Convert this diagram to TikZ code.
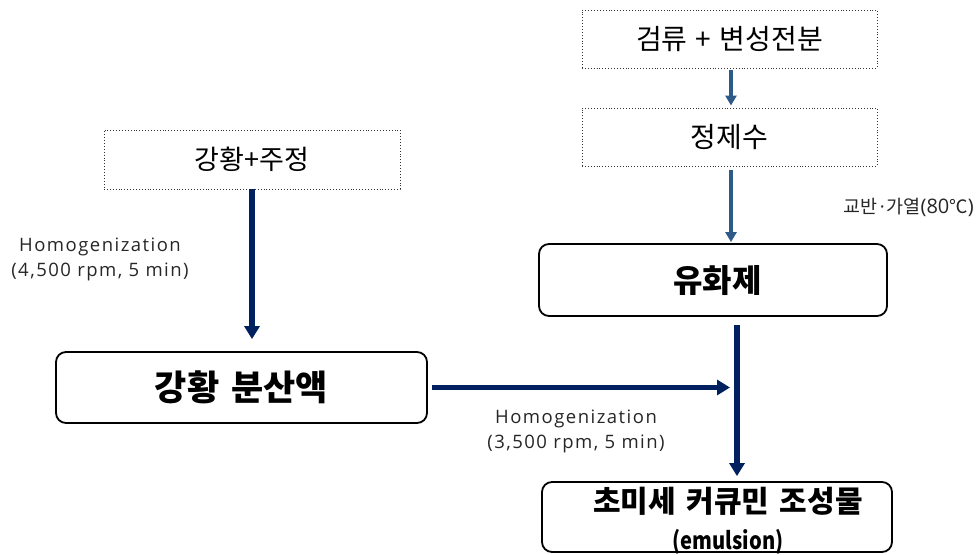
\documentclass[tikz,border=0pt]{standalone}
\usepackage{fontspec}
\setmainfont{Noto Sans CJK KR}
\newfontfamily\latinfont[LetterSpace=8]{Open Sans}
\newfontfamily\digitfont{Open Sans}
\newfontfamily\narrowfont[FakeStretch=0.84]{Noto Sans CJK KR}
\usetikzlibrary{arrows.meta}
\definecolor{navyline}{HTML}{002060}
\definecolor{steelline}{HTML}{2E5A87}
\tikzset{
  dotbox/.style={draw=black!80, dotted, line width=0.9pt, inner sep=0pt,
    font=\fontsize{28}{32}\selectfont},
  roundbox/.style={draw=black, line width=1.8pt, rounded corners=10pt, inner sep=0pt,
    align=center},
  boxtext/.style={inner sep=0pt, align=center},
  thinflow/.style={draw=steelline, line width=4pt,
    -{Triangle[width=11pt,length=10pt]}},
  thickflow/.style={draw=navyline, line width=5.5pt,
    -{Triangle[width=15pt,length=13pt]}},
  note/.style={inner sep=0pt, align=center, font=\latinfont\fontsize{18.5}{25}\selectfont, text=black!85},
}
\begin{document}
\begin{tikzpicture}[x=1pt,y=-1pt]
  \useasboundingbox (0,0) rectangle (976,554);

  % raw materials and process boxes
  \node[dotbox, minimum width=295pt, minimum height=58pt] (gum) at (729.5,39) {검류\hspace{0.3em}+\hspace{0.3em}변성전분};
  \node[dotbox, minimum width=295pt, minimum height=58pt] (water) at (729.5,137) {정제수};
  \node[dotbox, minimum width=296pt, minimum height=59pt, font=\fontsize{27}{31}\selectfont] (turm) at (252,159.5) {강황+주정};

  \node[roundbox, minimum width=371pt, minimum height=71pt,
        font=\bfseries\fontsize{35}{39}\selectfont] (disp) at (241.5,387.5) {강황\hspace{0.35em}분산액};
  \node[roundbox, minimum width=348pt, minimum height=72pt] (emul) at (713,280) {};
  \node[boxtext, font=\bfseries\fontsize{32}{36}\selectfont] (emultext) at (717.5,281) {유화제};
  \node[roundbox, minimum width=350pt, minimum height=70pt] (final) at (717,517) {};
  \node[boxtext, font=\bfseries\fontsize{30}{37}\selectfont] (finaltext) at (728,521)
        {초미세\hspace{0.35em}커큐민\hspace{0.35em}조성물\\{\narrowfont\bfseries\fontsize{24}{37}\selectfont(emulsion)}};

  % trunk line of the emulsion step
  \coordinate (trunk) at (737,0);
  \coordinate (feed) at (731,0);

  % connectors
  \draw[thinflow, shorten <=2pt, shorten >=2pt] (gum.south -| feed) -- (water.north -| feed);
  \draw[thinflow, shorten <=4pt, shorten >=1pt] (water.south -| feed) -- (emul.north -| feed);
  \draw[thickflow, shorten >=12pt] (turm.south) -- (turm.south |- disp.north);
  \draw[thickflow, shorten <=8pt, shorten >=5pt] (emul.south -| trunk) -- (final.north -| trunk);
  \draw[thickflow, line width=4.5pt, shorten <=4pt, shorten >=7pt] (disp.east) -- (disp.east -| trunk);

  % process conditions
  \node[note] (hom1) at (100,259) {Homogenization\\(4,500 rpm, 5 min)};
  \node[note] (hom2) at (576,431) {Homogenization\\(3,500 rpm, 5 min)};
  \node[inner sep=0pt, anchor=east, font=\fontsize{18.5}{20}\selectfont, text=black!85] (heat) at (974,207)
        {교반{\digitfont\hspace{0.1em}·\hspace{0.1em}}가열{\digitfont\fontsize{20}{20}\selectfont(80}℃{\digitfont\fontsize{20}{20}\selectfont)}};
\end{tikzpicture}
\end{document}
